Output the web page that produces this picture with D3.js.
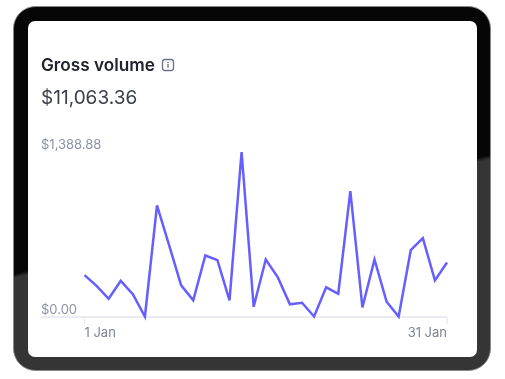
<!DOCTYPE html>
<html>
<head>
<meta charset="utf-8">
<script src="https://cdn.jsdelivr.net/npm/d3@7"></script>
<style>
  html, body { margin: 0; padding: 0; background: #fff; }
  text { font-family: Inter, "Noto Sans", sans-serif; }
</style>
</head>
<body>
<div id="chart"></div>
<script>
// values
const days = d3.range(1, 32);
const volumes = [349, 259, 150, 301, 189, 0, 938, 602, 263, 136, 515, 476, 136, 1388.88, 82, 481,
                 330, 103, 116, 0, 246, 192, 1059, 77, 481, 125, 0, 560, 661, 305, 456];
const yTickLabels = ["$0.00", "$1,388.88"];
const xTickLabels = ["1 Jan", "31 Jan"];
const title = "Gross volume";
const total = "$11,063.36";

const width = 505, height = 379;
const svg = d3.select("#chart").append("svg")
    .attr("width", width)
    .attr("height", height)
    .style("display", "block");

const defs = svg.append("defs");
// the black/grey split of the frame runs on a slant, low on the left, high on the right
const grad = defs.append("linearGradient")
    .attr("id", "frame-fill")
    .attr("gradientUnits", "userSpaceOnUse")
    .attr("x1", 251.5).attr("y1", 214.5).attr("x2", 252.5).attr("y2", 218.5);
grad.append("stop").attr("offset", 0).attr("stop-color", "#060606");
grad.append("stop").attr("offset", 1).attr("stop-color", "#353535");

const soft = defs.append("filter").attr("id", "soft");
soft.append("feGaussianBlur").attr("stdDeviation", 0.45);

// device frame
svg.append("rect")
    .attr("x", 13.5).attr("y", 6.5)
    .attr("width", 477).attr("height", 364)
    .attr("rx", 22)
    .attr("fill", "url(#frame-fill)")
    .attr("stroke", "#8a8a8a")
    .attr("stroke-width", 1);

svg.append("rect")
    .attr("x", 28).attr("y", 21)
    .attr("width", 449).attr("height", 336)
    .attr("rx", 7)
    .attr("fill", "#fff");

const g = svg.append("g").attr("filter", "url(#soft)");

// scales
const x = d3.scaleLinear().domain([1, 31]).range([84.5, 447]);
const y = d3.scaleLinear().domain([0, 1388.88]).range([316.5, 152]);

// baseline and ticks
g.append("line")
    .attr("x1", 41).attr("x2", x(31))
    .attr("y1", y(0) + 0.5).attr("y2", y(0) + 0.5)
    .attr("stroke", "#e3e6ec")
    .attr("stroke-width", 1.5);

g.selectAll(".x-tick")
    .data([1, 31])
    .enter()
    .append("line")
    .attr("class", "x-tick")
    .attr("x1", d => x(d)).attr("x2", d => x(d))
    .attr("y1", y(0) + 0.5).attr("y2", y(0) + 8)
    .attr("stroke", "#e3e6ec")
    .attr("stroke-width", 1.2);

// the line
const line = d3.line()
    .x((d, i) => x(days[i]))
    .y(d => y(d));

g.append("path")
    .attr("d", line(volumes))
    .attr("fill", "none")
    .attr("stroke", "#665fff")
    .attr("stroke-width", 2.5)
    .attr("stroke-linejoin", "miter");

// axis labels
g.append("text").attr("x", 41).attr("y", 314)
    .attr("fill", "#8d93a8").attr("font-size", 13).text(yTickLabels[0]);
g.append("text").attr("x", 41).attr("y", 149)
    .attr("fill", "#8d93a8").attr("font-size", 13).text(yTickLabels[1]);
g.append("text").attr("x", x(1)).attr("y", 337)
    .attr("fill", "#7d8397").attr("font-size", 13).text(xTickLabels[0]);
g.append("text").attr("x", x(31)).attr("y", 337)
    .attr("text-anchor", "end")
    .attr("fill", "#7d8397").attr("font-size", 13).text(xTickLabels[1]);

// header
g.append("text").attr("x", 41).attr("y", 71)
    .attr("fill", "#20232e").attr("font-size", 17.2).attr("font-weight", 600).text(title);
g.append("text").attr("x", 41).attr("y", 104)
    .attr("fill", "#3c4049").attr("font-size", 19).text(total);

// info icon
const icon = g.append("g").attr("transform", "translate(168,65)");
icon.append("rect")
    .attr("x", -5.5).attr("y", -5.5).attr("width", 11).attr("height", 11).attr("rx", 2.5)
    .attr("fill", "none").attr("stroke", "#6b7187").attr("stroke-width", 1.3);
icon.append("rect")
    .attr("x", -0.7).attr("y", -1).attr("width", 1.4).attr("height", 3.8).attr("fill", "#6b7187");
icon.append("rect")
    .attr("x", -0.7).attr("y", -3).attr("width", 1.4).attr("height", 1.2).attr("fill", "#6b7187");
</script>
</body>
</html>
